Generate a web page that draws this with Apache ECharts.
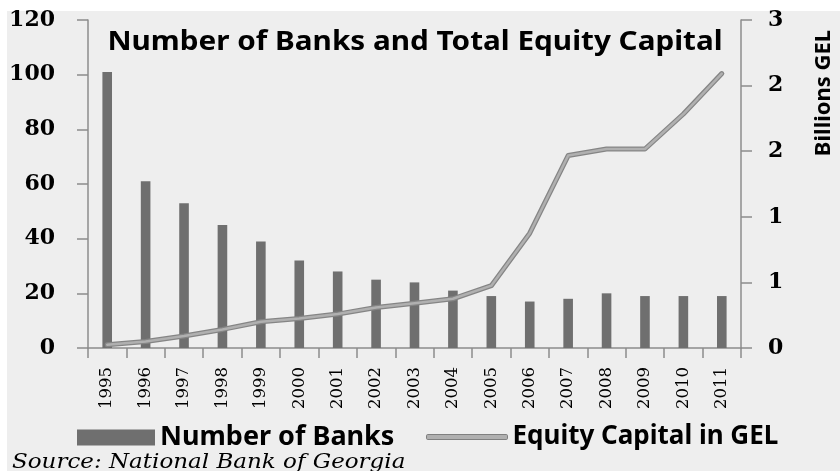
<!DOCTYPE html>
<html>
<head>
<meta charset="utf-8">
<script src="https://cdn.jsdelivr.net/npm/echarts@6/dist/echarts.min.js"></script>
<style>
  html, body { margin: 0; padding: 0; background: #ffffff; }
  #chart { width: 840px; height: 471px; }
</style>
</head>
<body>
<div id="chart"></div>
<script>
// Georgian banking sector, 1995-2011
const years = ['1995', '1996', '1997', '1998', '1999', '2000', '2001', '2002', '2003',
               '2004', '2005', '2006', '2007', '2008', '2009', '2010', '2011'];
// Number of commercial banks operating
const bankCounts = [101, 61, 53, 45, 39, 32, 28, 25, 24, 21, 19, 17, 18, 20, 19, 19, 19];
// Total equity capital, billions GEL
const equityCapital = [0.03, 0.06, 0.11, 0.17, 0.24, 0.27, 0.31, 0.37, 0.41, 0.45,
                       0.57, 1.05, 1.76, 1.82, 1.82, 2.14, 2.51];
// Axis ranges
const banksAxis = { min: 0, max: 120, step: 20 };
const equityAxis = { min: 0, max: 3, step: 0.6 };

const chart = echarts.init(document.getElementById('chart'), null, { renderer: 'canvas' });

const axisGray = '#8c8c8c';
const serif = 'DejaVu Serif';
const sans = 'Noto Sans';

chart.setOption({
  animation: false,
  backgroundColor: '#ffffff',
  graphic: [
    {
      type: 'rect', z: -10, silent: true,
      shape: { x: 7, y: 11, width: 833, height: 460 },
      style: { fill: '#eeeeee' }
    },
    {
      type: 'text', z: 10,
      x: 415, y: 42, scaleX: 1.1,
      style: {
        text: 'Number of Banks and Total Equity Capital',
        fontFamily: sans, fontWeight: 'bold', fontSize: 27,
        fill: '#000', textAlign: 'center', textVerticalAlign: 'middle'
      }
    },
    {
      type: 'text', z: 10,
      x: 824, y: 93, rotation: Math.PI / 2,
      style: {
        text: 'Billions GEL',
        fontFamily: sans, fontWeight: 'bold', fontSize: 22,
        fill: '#000', textAlign: 'center', textVerticalAlign: 'middle'
      }
    },
    {
      type: 'text', z: 10,
      x: 12, y: 463, scaleX: 1.15,
      style: {
        text: 'Source: National Bank of Georgia',
        fontFamily: serif, fontStyle: 'italic', fontSize: 20,
        fill: '#000', textAlign: 'left', textVerticalAlign: 'middle'
      }
    }
  ],
  legend: [
    {
      data: [{ name: 'Number of Banks', icon: 'rect' }],
      left: 72, top: 419,
      itemWidth: 78, itemHeight: 16,
      textStyle: { fontFamily: sans, fontWeight: 'bold', fontSize: 27, color: '#000' },
      selectedMode: false
    },
    {
      data: [{
        name: 'Equity Capital in GEL', icon: 'roundRect',
        itemStyle: { color: '#b0b0b0', borderColor: '#808080', borderWidth: 1 }
      }],
      left: 421, top: 419,
      itemWidth: 81, itemHeight: 5,
      textStyle: { fontFamily: sans, fontWeight: 'bold', fontSize: 26, color: '#000' },
      selectedMode: false
    }
  ],
  grid: { left: 88, right: 99, top: 20, bottom: 123, containLabel: false },
  xAxis: {
    type: 'category',
    data: years,
    boundaryGap: true,
    axisLine: { show: true, lineStyle: { color: axisGray, width: 1.5 } },
    axisTick: { show: true, alignWithLabel: false, interval: 0, length: 10, lineStyle: { color: axisGray, width: 1.5 } },
    axisLabel: {
      interval: 0, rotate: 90, margin: 19,
      fontFamily: serif, fontSize: 16.5, color: '#000'
    },
    splitLine: { show: false }
  },
  yAxis: [
    {
      type: 'value', position: 'left',
      min: banksAxis.min, max: banksAxis.max, interval: banksAxis.step,
      axisLine: { show: true, lineStyle: { color: axisGray, width: 1.5 } },
      axisTick: { show: true, length: 11, lineStyle: { color: axisGray, width: 1.5 } },
      axisLabel: { margin: 33, fontFamily: serif, fontWeight: 'bold', fontSize: 22, color: '#000' },
      splitLine: { show: false }
    },
    {
      type: 'value', position: 'right',
      min: equityAxis.min, max: equityAxis.max, interval: equityAxis.step,
      axisLine: { show: true, lineStyle: { color: axisGray, width: 1.5 } },
      axisTick: { show: true, length: 11, lineStyle: { color: axisGray, width: 1.5 } },
      axisLabel: {
        margin: 27, fontFamily: serif, fontWeight: 'bold', fontSize: 22, color: '#000',
        formatter: v => String(Math.round(v))
      },
      splitLine: { show: false }
    }
  ],
  series: [
    {
      name: 'Number of Banks',
      type: 'bar',
      yAxisIndex: 0,
      data: bankCounts,
      barWidth: '25%',
      itemStyle: { color: '#6f6f6f' }
    },
    {
      name: 'equityOutline',
      type: 'line',
      yAxisIndex: 1,
      data: equityCapital,
      symbol: 'none',
      lineStyle: { color: '#858585', width: 5, cap: 'round', join: 'round' },
      z: 3
    },
    {
      name: 'Equity Capital in GEL',
      type: 'line',
      yAxisIndex: 1,
      data: equityCapital,
      symbol: 'none',
      itemStyle: { color: '#b0b0b0' },
      lineStyle: { color: '#b0b0b0', width: 2.5, cap: 'round', join: 'round' },
      z: 4
    }
  ]
});
</script>
</body>
</html>
